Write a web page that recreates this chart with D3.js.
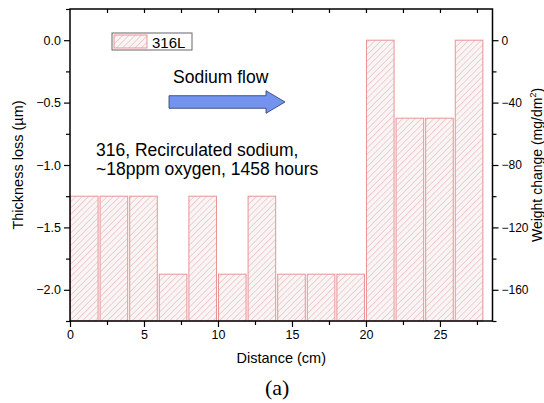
<!DOCTYPE html>
<html>
<head>
<meta charset="utf-8">
<script src="https://cdn.jsdelivr.net/npm/d3@7"></script>
<style>
  body { margin: 0; background: #fff; }
  svg text { font-family: Arial, "Liberation Sans", sans-serif; fill: #000; }
</style>
</head>
<body>
<svg id="chart" width="544" height="403"></svg>
<script>
// bar segments along the loop, 2 cm each
var binStarts = [0, 2, 4, 6, 8, 10, 12, 14, 16, 18, 20, 22, 24, 26];
var binWidth = 2;
var thicknessLoss = [-1.25, -1.25, -1.25, -1.875, -1.25, -1.875, -1.25,
                     -1.875, -1.875, -1.875, 0, -0.625, -0.625, 0];
var xTicks = [0, 5, 10, 15, 20, 25];
var leftTicks = [0, -0.5, -1.0, -1.5, -2.0];
var rightTicks = [0, -40, -80, -120, -160];

var svg = d3.select('#chart');
var margin = {left: 70, top: 9, right: 51.5, bottom: 82};
var width = 544 - margin.left - margin.right,
    height = 403 - margin.top - margin.bottom;

var x = d3.scaleLinear().domain([0, 28.55]).range([0, width]);
var y = d3.scaleLinear().domain([-2.25, 0.25]).range([height, 0]);
var y2 = d3.scaleLinear().domain([-180, 20]).range([height, 0]);

var defs = svg.append('defs');
var pat = defs.append('pattern')
    .attr('id', 'hatch')
    .attr('patternUnits', 'userSpaceOnUse')
    .attr('width', 4.4).attr('height', 4.4)
    .attr('patternTransform', 'rotate(45)');
pat.append('rect').attr('width', 4.4).attr('height', 4.4).attr('fill', '#f7f5f5');
pat.append('line')
    .attr('x1', 0).attr('y1', 0).attr('x2', 0).attr('y2', 4.4)
    .attr('stroke', '#eeaaaa').attr('stroke-width', 1);

var g = svg.append('g').attr('transform', 'translate(' + margin.left + ',' + margin.top + ')');

// bars
g.selectAll('rect.bar')
    .data(thicknessLoss)
    .enter().append('rect')
    .attr('class', 'bar')
    .attr('x', function(d, i) { return x(binStarts[i]) + 0.5; })
    .attr('y', function(d) { return y(d); })
    .attr('width', function(d, i) { return x(binStarts[i] + binWidth) - x(binStarts[i]) - 2; })
    .attr('height', function(d) { return y(-2.25) - y(d); })
    .attr('fill', 'url(#hatch)')
    .attr('stroke', '#e89494')
    .attr('stroke-width', 1);

// axes
g.append('g')
    .attr('transform', 'translate(0,' + height + ')')
    .call(d3.axisBottom(x).tickValues(xTicks).tickFormat(d3.format('d')).tickSize(6).tickSizeOuter(0));
g.append('g')
    .attr('transform', 'translate(0,' + height + ')')
    .call(d3.axisBottom(x).tickValues(d3.range(2.5, 28, 5)).tickFormat('').tickSize(4).tickSizeOuter(0));

g.append('g')
    .call(d3.axisBottom(x).tickValues(d3.range(2.5, 28, 2.5)).tickFormat('').tickSize(4).tickSizeOuter(0));

g.append('g')
    .call(d3.axisLeft(y).tickValues(leftTicks).tickFormat(d3.format('.1f')).tickSize(6).tickSizeOuter(0));
g.append('g')
    .call(d3.axisLeft(y).tickValues([0.25, -0.25, -0.75, -1.25, -1.75, -2.25]).tickFormat('').tickSize(4).tickSizeOuter(0));

g.append('g')
    .attr('class', 'right')
    .attr('transform', 'translate(' + width + ',0)')
    .call(d3.axisRight(y2).tickValues(rightTicks).tickFormat(d3.format('d')).tickSize(6).tickSizeOuter(0));
g.append('g')
    .attr('transform', 'translate(' + width + ',0)')
    .call(d3.axisRight(y2).tickValues([-20, -60, -100, -140, -180]).tickFormat('').tickSize(4).tickSizeOuter(0));

g.selectAll('.domain').remove();
g.selectAll('.tick line').attr('stroke', '#000').attr('stroke-width', 1.2);
g.selectAll('.tick text').attr('font-size', 12.5);
g.selectAll('.right .tick text').attr('font-size', 12);
g.selectAll('g').attr('font-family', null);

g.append('rect')
    .attr('width', width).attr('height', height)
    .attr('fill', 'none').attr('stroke', '#000').attr('stroke-width', 1.5);

// axis titles
svg.append('text')
    .attr('transform', 'translate(22.5,' + (margin.top + height / 2) + ') rotate(-90)')
    .attr('text-anchor', 'middle')
    .attr('font-size', 14.5)
    .text('Thickness loss (\u00b5m)');

var rt = svg.append('text')
    .attr('transform', 'translate(541.5,' + (margin.top + height / 2) + ') rotate(-90)')
    .attr('text-anchor', 'middle')
    .attr('font-size', 14);
rt.append('tspan').text('Weight change (mg/dm');
rt.append('tspan').attr('font-size', 9).attr('dy', -6).text('2');
rt.append('tspan').attr('dy', 6).text(')');

svg.append('text')
    .attr('x', margin.left + width / 2).attr('y', 363)
    .attr('text-anchor', 'middle')
    .attr('font-size', 14.5)
    .text('Distance (cm)');

svg.append('text')
    .attr('x', margin.left + width / 2 - 4).attr('y', 395)
    .attr('text-anchor', 'middle')
    .attr('font-size', 22)
    .style('font-family', '"Times New Roman", "Liberation Serif", serif')
    .text('(a)');

// legend
var leg = svg.append('g').attr('transform', 'translate(112,33)');
leg.append('rect').attr('width', 80).attr('height', 17)
    .attr('fill', '#fff').attr('stroke', '#666').attr('stroke-width', 1);
leg.append('rect').attr('x', 2).attr('y', 2).attr('width', 33).attr('height', 13)
    .attr('fill', 'url(#hatch)').attr('stroke', '#e89494');
leg.append('text').attr('x', 40).attr('y', 14.5).attr('font-size', 15).text('316L');

// annotations
svg.append('text').attr('x', 173).attr('y', 83).attr('font-size', 17.5).text('Sodium flow');

var arrow = d3.path();
arrow.moveTo(169, 95.7);
arrow.lineTo(266, 95.7);
arrow.lineTo(266, 90.7);
arrow.lineTo(285, 102);
arrow.lineTo(266, 113.3);
arrow.lineTo(266, 108.3);
arrow.lineTo(169, 108.3);
arrow.closePath();
svg.append('path').attr('d', arrow.toString())
    .attr('fill', '#7393ef').attr('stroke', '#2a3770').attr('stroke-width', 0.8);

svg.append('text').attr('x', 96).attr('y', 156).attr('font-size', 17.5).text('316, Recirculated sodium,');
svg.append('text').attr('x', 96).attr('y', 175).attr('font-size', 17.5).text('~18ppm oxygen, 1458 hours');
</script>
</body>
</html>
